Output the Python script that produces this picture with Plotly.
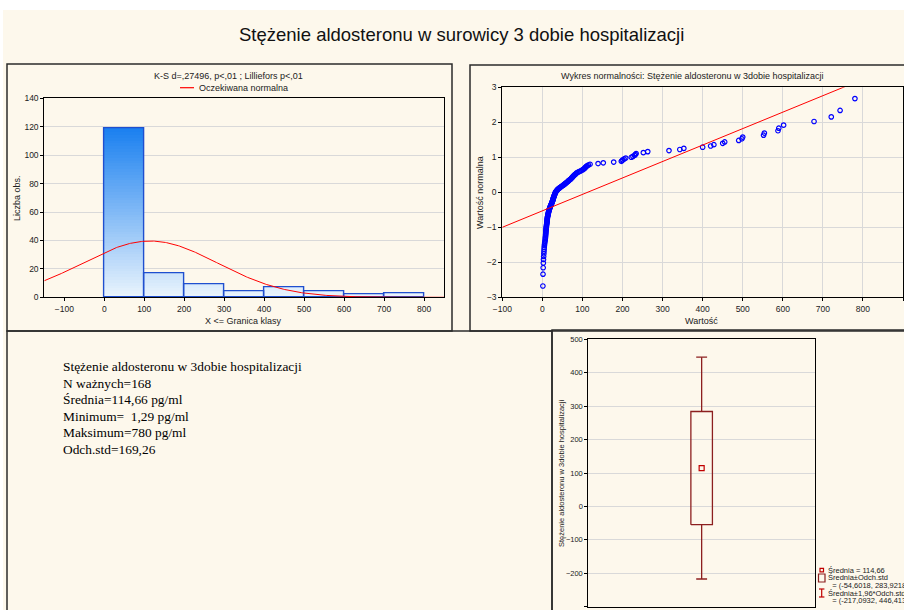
import numpy as np
import plotly.graph_objects as go
from statistics import NormalDist

W, H = 904, 610

# ---------------- data ----------------
main_title = "Stężenie aldosteronu w surowicy 3 dobie hospitalizacji"

# histogram (class upper bounds 100..800)
bin_left = [0, 100, 200, 300, 400, 500, 600, 700]
bin_counts = [119, 17, 9, 4, 7, 4, 2, 3]
bin_width = 100
hist_xticks = [-100, 0, 100, 200, 300, 400, 500, 600, 700, 800]
hist_yticks = [0, 20, 40, 60, 80, 100, 120, 140]
hist_title = "K-S d=,27496, p<,01 ; Lilliefors p<,01"
hist_legend = "Oczekiwana normalna"

# descriptive statistics
n_valid = 168
mean_val = 114.66
sd_val = 169.26185
min_val = 1.29
max_val = 780

# sorted observations (pg/ml)
aldo_sorted = [
    1.29, 1.6, 2.0, 2.4, 2.8, 3.2, 3.7, 4.0, 4.3, 4.6,
    5.0, 5.4, 5.9, 6.5, 7.0, 7.3, 7.6, 7.9, 8.1, 8.3,
    8.5, 8.7, 8.9, 9.1, 9.3, 9.5, 9.8, 10.0, 10.3, 10.5,
    10.8, 11.0, 11.3, 11.5, 11.8, 12.0, 12.1, 12.3, 12.4, 12.6,
    12.9, 13.3, 13.6, 14.0, 14.3, 14.6, 15.0, 15.3, 15.7, 16.0,
    16.4, 16.9, 17.4, 17.8, 18.3, 18.8, 19.4, 19.9, 20.5, 21.0,
    21.6, 22.2, 22.8, 23.4, 24.0, 24.4, 24.9, 25.3, 25.8, 26.2,
    26.6, 27.0, 27.4, 27.8, 28.2, 28.7, 29.1, 29.6, 30.0, 30.5,
    31.0, 31.6, 32.1, 32.7, 33.2, 34.1, 35.1, 36.0, 37.0, 38.0,
    39.7, 41.4, 43.1, 44.8, 46.5, 48.3, 50.1, 51.9, 53.7, 55.5,
    57.1, 58.7, 60.3, 61.9, 63.5, 65.1, 66.7, 68.3, 69.9, 71.5,
    72.8, 74.1, 75.4, 76.7, 78.0, 79.6, 81.2, 82.8, 84.4, 86.0,
    89.0, 92.0, 95.0, 98.0, 101.0, 103.0, 105.0, 106.5, 108.0, 110.0,
    112.0, 115.0, 119.0,
    139, 152, 178, 197, 199, 201, 204, 208, 222, 226,
    230, 232, 234, 252, 263, 316, 343, 353, 400, 420,
    428, 450, 455, 490, 498, 500, 552, 554, 588, 590,
    602, 678, 721, 743, 780,
]
qq_title = "Wykres normalności: Stężenie aldosteronu w 3dobie hospitalizacji"
qq_line_intercept = -0.53
qq_line_slope = 0.0047
qq_xticks = list(range(-100, 1000, 100))
qq_yticks = [-3, -2, -1, 0, 1, 2, 3]

box_yticks = list(range(-300, 600, 100))
box_ylabel = "Stężenie aldosteronu w 3dobie hospitalizacji"
box_legend_lines = [
    "Średnia = 114,66",
    "Średnia±Odch.std",
    "  = (-54,6018, 283,9218)",
    "Średnia±1,96*Odch.std",
    "  = (-217,0932, 446,4132)",
]

stats_lines = [
    "Stężenie aldosteronu w 3dobie hospitalizacji",
    "N ważnych=168",
    "Średnia=114,66 pg/ml",
    "Minimum=  1,29 pg/ml",
    "Maksimum=780 pg/ml",
    "Odch.std=169,26",
]

# ---------------- helpers ----------------
def fx(px):
    return px / W


def fy(py):
    return 1 - py / H


SANS = "Liberation Sans, Arial, sans-serif"
SERIF = "Liberation Serif, Times New Roman, serif"
CREAM = "#fdf8ec"
GRID = "#d9d9d9"
BOXC = "#8c1f1f"

fig = go.Figure()

# ---------------- histogram ----------------
centers = [b + bin_width / 2 for b in bin_left]
lo_rgb = np.array([234, 244, 253])
hi_rgb = np.array([26, 128, 240])
step = 2
tops = list(range(140, 0, -step))
for top in tops:
    t = min(1.0, max(0.0, (top - step / 2) / 119.0))
    rgb = (lo_rgb + (hi_rgb - lo_rgb) * t).astype(int)
    heights = [min(c, top) for c in bin_counts]
    if max(heights) <= 0:
        continue
    fig.add_trace(go.Bar(
        x=centers, y=heights, width=bin_width, base=0,
        marker=dict(color=f"rgb({rgb[0]},{rgb[1]},{rgb[2]})", line=dict(width=0)),
        xaxis="x", yaxis="y", showlegend=False, hoverinfo="skip",
    ))
fig.add_trace(go.Bar(
    x=centers, y=bin_counts, width=bin_width,
    marker=dict(color="rgba(0,0,0,0)", line=dict(color="#1f4fcf", width=1.4)),
    xaxis="x", yaxis="y", showlegend=False,
))
xc = np.linspace(-150, 850, 400)
nd = NormalDist(mean_val, sd_val)
yc = [n_valid * bin_width * nd.pdf(v) for v in xc]
fig.add_trace(go.Scatter(
    x=xc, y=yc, mode="lines", line=dict(color="#ff0000", width=1),
    xaxis="x", yaxis="y", showlegend=False,
))

# ---------------- normal probability plot ----------------
n = len(aldo_sorted)
std_norm = NormalDist()
qq_z = [std_norm.inv_cdf((i - 0.375) / (n + 0.25)) for i in range(1, n + 1)]
fig.add_trace(go.Scatter(
    x=aldo_sorted, y=qq_z, mode="markers",
    marker=dict(symbol="circle-open", size=4.5, color="#0000ff", line=dict(width=1.2)),
    xaxis="x2", yaxis="y2", showlegend=False,
))
lx = np.array([qq_xticks[0], qq_xticks[-1]])
fig.add_trace(go.Scatter(
    x=lx, y=qq_line_intercept + qq_line_slope * lx, mode="lines",
    line=dict(color="#ff0000", width=1),
    xaxis="x2", yaxis="y2", showlegend=False,
))

# ---------------- mean / sd box ----------------
c, bw, cw = 0.5, 0.0475, 0.024
b_lo, b_hi = mean_val - sd_val, mean_val + sd_val
w_lo, w_hi = mean_val - 1.96 * sd_val, mean_val + 1.96 * sd_val
fig.add_trace(go.Scatter(
    x=[c - bw, c + bw, c + bw, c - bw, c - bw], y=[b_lo, b_lo, b_hi, b_hi, b_lo],
    mode="lines", line=dict(color=BOXC, width=1.3),
    xaxis="x3", yaxis="y3", showlegend=False,
))
fig.add_trace(go.Scatter(
    x=[c, c, None, c - cw, c + cw, None, c, c, None, c - cw, c + cw],
    y=[b_hi, w_hi, None, w_hi, w_hi, None, b_lo, w_lo, None, w_lo, w_lo],
    mode="lines", line=dict(color=BOXC, width=1.3),
    xaxis="x3", yaxis="y3", showlegend=False,
))
fig.add_trace(go.Scatter(
    x=[c], y=[mean_val], mode="markers",
    marker=dict(symbol="square-open", size=5, color="#c00000", line=dict(width=1.2)),
    xaxis="x3", yaxis="y3", showlegend=False,
))

# ---------------- axes ----------------
tickfont = dict(family=SANS, size=8.5, color="#222")
common = dict(showline=True, linecolor="#000", linewidth=1, mirror=True,
              ticks="outside", ticklen=3, tickcolor="#000", tickfont=tickfont,
              zeroline=False, gridcolor=GRID, gridwidth=1, automargin=False)

fig.update_layout(
    xaxis=dict(domain=[fx(44.3), fx(444)], range=[-150, 850], tickvals=hist_xticks,
               showgrid=False, anchor="y", **common),
    yaxis=dict(domain=[fy(297.3), fy(98.3)], range=[0, 140], tickvals=hist_yticks,
               showgrid=True, anchor="x", **common),
    xaxis2=dict(domain=[fx(502.3), fx(903)], range=[-100, 900], tickvals=qq_xticks,
                showgrid=True, anchor="y2", **common),
    yaxis2=dict(domain=[fy(297.3), fy(87.3)], range=[-3, 3], tickvals=qq_yticks,
                showgrid=True, anchor="x2", **common),
    xaxis3=dict(domain=[fx(588.3), fx(815)], range=[0, 1], showticklabels=False,
                showgrid=False, anchor="y3", showline=True, linecolor="#000",
                linewidth=1, mirror=True, ticks="", zeroline=False, automargin=False),
    yaxis3=dict(domain=[fy(606.7), fy(339.3)], range=[-300, 500], tickvals=box_yticks,
                showgrid=True, anchor="x3",
                **{**common, "tickfont": dict(family=SANS, size=7.5, color="#222")}),
)

# ---------------- shapes ----------------
shapes = [
    dict(type="rect", xref="paper", yref="paper", x0=fx(3), x1=fx(910), y0=fy(10), y1=fy(620),
         fillcolor=CREAM, line=dict(width=0), layer="below"),
]
panel = dict(type="rect", xref="paper", yref="paper", line=dict(color="#2b2b2b", width=1.5),
             fillcolor="rgba(0,0,0,0)", layer="above")
for (x0, y0, x1, y1) in [(7, 64, 452, 331), (470, 65, 910, 331), (7, 331, 552, 620), (552, 330, 910, 620)]:
    shapes.append({**panel, "x0": fx(x0), "x1": fx(x1), "y0": fy(y1), "y1": fy(y0)})
# histogram legend swatch
shapes.append(dict(type="line", xref="paper", yref="paper", x0=fx(180), x1=fx(194),
                   y0=fy(87.7), y1=fy(87.7), line=dict(color="#ff0000", width=1.2)))
# box legend symbols
shapes.append(dict(type="rect", xref="paper", yref="paper", x0=fx(820), x1=fx(823.5),
                   y0=fy(571.8), y1=fy(568.3), line=dict(color="#c00000", width=1.2)))
shapes.append(dict(type="rect", xref="paper", yref="paper", x0=fx(818.5), x1=fx(825),
                   y0=fy(582), y1=fy(574), line=dict(color=BOXC, width=1.2)))
for (x0, y0, x1, y1) in [(821.7, 589, 821.7, 597), (819, 589, 824.4, 589), (819, 597, 824.4, 597)]:
    shapes.append(dict(type="line", xref="paper", yref="paper", x0=fx(x0), x1=fx(x1),
                       y0=fy(y0), y1=fy(y1), line=dict(color="#c00000", width=1.2)))
fig.update_layout(shapes=shapes)

# ---------------- text ----------------
ann = []


def label(txt, x, y, size=9, angle=0, xanchor="center", family=SANS, color="#222", pad=1):
    ann.append(dict(text=txt, x=fx(x), y=fy(y), xref="paper", yref="paper",
                    xanchor=xanchor, yanchor="middle", showarrow=False, textangle=angle,
                    borderpad=pad, font=dict(family=family, size=size, color=color)))


label(main_title, 462, 35, size=18.5, color="#111")
label(hist_title, 229, 75.7)
label(hist_legend, 197, 87.7, xanchor="left")
label("Liczba obs.", 17, 198, angle=-90)
label("X <= Granica klasy", 244, 321)
label(qq_title, 692.5, 75.7)
label("Wartość normalna", 480, 193, angle=-90)
label("Wartość", 701.7, 321)
label(box_ylabel, 561, 473, size=7.5, angle=-90)
for k, s in enumerate(stats_lines):
    label(s, 61, 366.7 + k * 16.5, size=13.4, xanchor="left", family=SERIF, color="#000")
for k, s in enumerate(box_legend_lines):
    label(s.replace(" ", "&nbsp;") if s.startswith(" ") else s, 826.5, 570 + k * 7.7,
          size=7.5, xanchor="left", pad=0)
fig.update_layout(annotations=ann)

fig.update_layout(
    template="none",
    width=W, height=H, margin=dict(l=0, r=0, t=0, b=0, autoexpand=False),
    paper_bgcolor="white", plot_bgcolor="white",
    barmode="overlay", bargap=0, showlegend=False,
)

fig.write_html("out.html")
